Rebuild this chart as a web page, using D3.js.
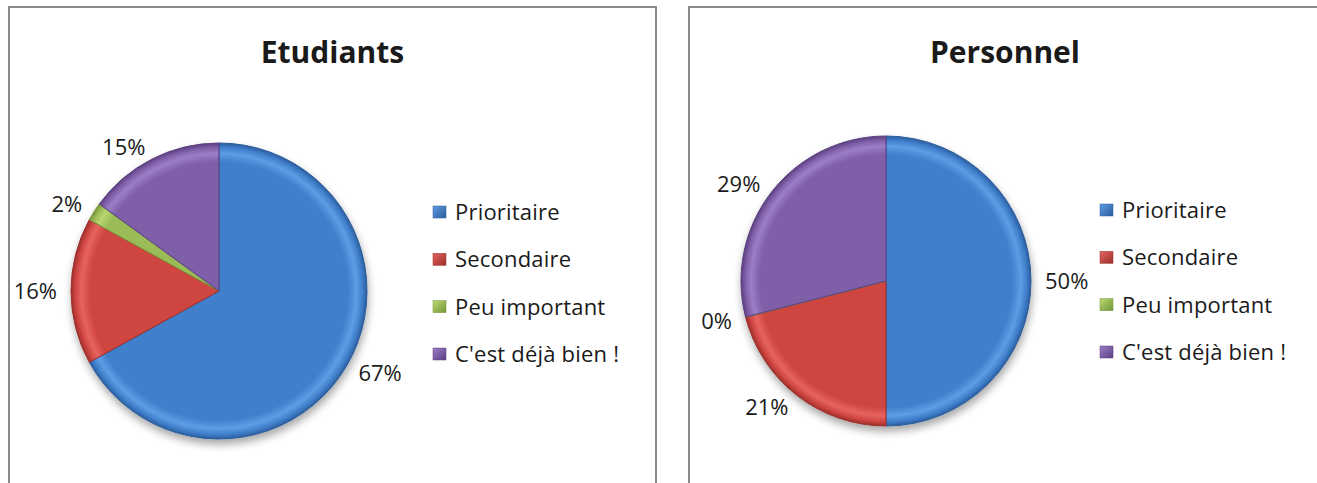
<!DOCTYPE html>
<html>
<head>
<meta charset="utf-8">
<script src="https://cdn.jsdelivr.net/npm/d3@7"></script>
<style>
  body { margin: 0; background: #fff; }
  svg text { font-family: "Open Sans", Lato, sans-serif; fill: #1a1a1a; }
</style>
</head>
<body>
<svg id="chart" width="1317" height="483"></svg>
<script>
// data
const categories = ["Prioritaire", "Secondaire", "Peu important", "C'est déjà bien !"];
const etudiants = [67, 16, 2, 15];
const personnel = [50, 21, 0, 29];
const titles = ["Etudiants", "Personnel"];
const colors = [
  {base: "#3f7fcc", light: "#5e9de4", dark: "#2c5d9c"},
  {base: "#cf4541", light: "#e6645f", dark: "#9c2f2b"},
  {base: "#9bbb59", light: "#b9d872", dark: "#749637"},
  {base: "#7f5fa8", light: "#9b7ec6", dark: "#5b3f80"}
];

const svg = d3.select("#chart");
const defs = svg.append("defs");

const panels = [
  {x: 9, w: 647, cx: 219, cy: 291, r: 148, legX: 439, legY: 212, values: etudiants, tdx: 0},
  {x: 689, w: 640, cx: 886, cy: 281, r: 145, legX: 1106, legY: 210, values: personnel, tdx: -4}
];

// gradients (bevel look), one set per pie
panels.forEach(function(p, pi) {
  colors.forEach(function(c, i) {
    let g = defs.append("radialGradient").attr("id", "grad" + pi + "_" + i)
      .attr("gradientUnits", "userSpaceOnUse")
      .attr("cx", 0).attr("cy", 0).attr("r", p.r);
    g.append("stop").attr("offset", "0%").attr("stop-color", c.base);
    g.append("stop").attr("offset", "87%").attr("stop-color", c.base);
    g.append("stop").attr("offset", "93%").attr("stop-color", c.light);
    g.append("stop").attr("offset", "97%").attr("stop-color", c.base);
    g.append("stop").attr("offset", "100%").attr("stop-color", c.dark);
  });
});
colors.forEach(function(c, i) {
  let lg = defs.append("linearGradient").attr("id", "lg" + i)
    .attr("x1", 0).attr("y1", 0).attr("x2", 1).attr("y2", 1);
  lg.append("stop").attr("offset", "0%").attr("stop-color", c.light);
  lg.append("stop").attr("offset", "100%").attr("stop-color", c.dark);
});

let shadow = defs.append("filter").attr("id", "shadow")
  .attr("x", "-20%").attr("y", "-20%").attr("width", "140%").attr("height", "140%");
shadow.append("feGaussianBlur").attr("in", "SourceAlpha").attr("stdDeviation", 4);
shadow.append("feOffset").attr("dx", 1).attr("dy", 5).attr("result", "b");
shadow.append("feComponentTransfer").append("feFuncA").attr("type", "linear").attr("slope", 0.35);
let merge = shadow.append("feMerge");
merge.append("feMergeNode");
merge.append("feMergeNode").attr("in", "SourceGraphic");

const pie = d3.pie().sort(null).value(function(d) { return d; });

panels.forEach(function(p, pi) {
  let g = svg.append("g");
  g.append("rect").attr("x", p.x).attr("y", 7).attr("width", p.w).attr("height", 500)
    .attr("fill", "#fff").attr("stroke", "#8a8a8a").attr("stroke-width", 2);

  g.append("text").text(titles[pi])
    .attr("x", p.x + p.w / 2 + p.tdx).attr("y", 63)
    .attr("text-anchor", "middle").attr("font-size", 30).attr("font-weight", "bold");

  let arcs = pie(p.values);
  let arc = d3.arc().innerRadius(0).outerRadius(p.r);
  let pg = g.append("g").attr("transform", "translate(" + p.cx + "," + p.cy + ")");
  let sg = pg.append("g").attr("filter", "url(#shadow)");
  sg.selectAll("path").data(arcs).enter().append("path")
    .attr("d", arc)
    .attr("fill", function(d, i) { return "url(#grad" + pi + "_" + i + ")"; })
    .attr("stroke", function(d, i) { return colors[i].dark; })
    .attr("stroke-width", 1);

  // labels
  let lr = p.r + 14;
  pg.selectAll("text.lbl").data(arcs).enter().append("text")
    .attr("class", "lbl")
    .each(function(d) {
      let a = (d.startAngle + d.endAngle) / 2;
      let x = lr * Math.sin(a), y = -lr * Math.cos(a);
      let s = Math.sin(a);
      d3.select(this).attr("x", x).attr("y", y + 8)
        .attr("text-anchor", Math.abs(s) < 0.3 ? "middle" : (s > 0 ? "start" : "end"));
    })
    .attr("font-size", 22)
    .text(function(d) { return d.data + "%"; });

  // legend
  let yScale = d3.scalePoint().domain(categories).range([p.legY, p.legY + 142]);
  let lg = g.append("g");
  categories.forEach(function(c, i) {
    lg.append("rect").attr("x", p.legX - 6).attr("y", yScale(c) - 6)
      .attr("width", 13).attr("height", 12)
      .attr("fill", "url(#lg" + i + ")").attr("stroke", colors[i].dark).attr("stroke-width", 0.5);
    lg.append("text").text(c).attr("x", p.legX + 16).attr("y", yScale(c) + 8)
      .attr("font-size", 22).attr("letter-spacing", 0.2);
  });
});
</script>
</body>
</html>
